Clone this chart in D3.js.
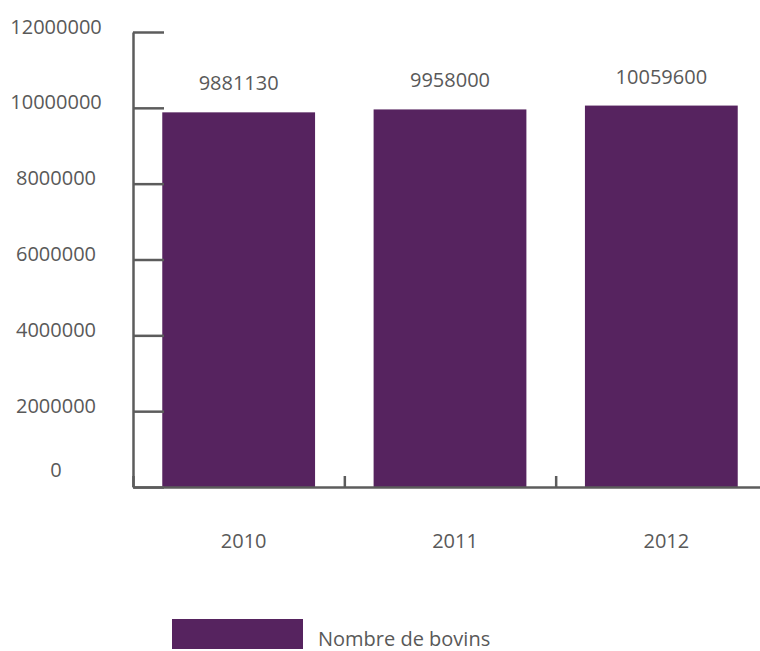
<!DOCTYPE html>
<html>
<head>
<meta charset="utf-8">
<script src="https://cdn.jsdelivr.net/npm/d3@7"></script>
<style>
  html, body { margin: 0; padding: 0; background: #ffffff; }
  svg { display: block; }
  text { font-family: "Open Sans", "Noto Sans", sans-serif; fill: #595959; }
</style>
</head>
<body>
<svg id="chart" width="760" height="651"></svg>
<script>
// Cattle headcount by year
const years = ["2010", "2011", "2012"];
const bovins = [9881130, 9958000, 10059600];
const yTicks = [0, 2000000, 4000000, 6000000, 8000000, 10000000, 12000000];
const seriesName = "Nombre de bovins";

const plotLeft = 133, plotRight = 767, plotTop = 32, plotBottom = 487;
const barColor = "#56235F";
const axisColor = "#5c5c5c";

const svg = d3.select("#chart");

const x = d3.scaleBand()
  .domain(years)
  .range([plotLeft, plotRight])
  .paddingInner(0.277)
  .paddingOuter(0.1385);

// band boundaries, used for the category separator ticks
const xEdges = d3.scaleLinear().domain([0, years.length]).range([plotLeft, plotRight]);

const y = d3.scaleLinear().domain([0, 12000000]).range([plotBottom, plotTop]);

// bars
svg.append("g")
  .selectAll("rect")
  .data(bovins)
  .join("rect")
  .attr("x", (d, i) => x(years[i]))
  .attr("y", d => y(d))
  .attr("width", x.bandwidth())
  .attr("height", d => y(0) - y(d))
  .attr("fill", barColor);

// y axis: ticks point into the plot, labels centred in the left margin
const yAxis = svg.append("g")
  .attr("transform", `translate(${plotLeft},0)`)
  .call(d3.axisLeft(y).tickValues(yTicks).tickSizeInner(-31).tickSizeOuter(0)
    .tickFormat(d3.format("d")));
yAxis.select(".domain").attr("stroke", axisColor).attr("stroke-width", 2.5);
yAxis.selectAll(".tick line").attr("stroke", axisColor).attr("stroke-width", 2.5);
yAxis.selectAll(".tick text")
  .attr("x", -77)
  .attr("dy", d => d === 0 ? "-0.55em" : "0.05em")
  .attr("text-anchor", "middle")
  .style("font-size", "20px")
  .style("font-family", "'Open Sans', sans-serif")
  .attr("fill", "#595959");

// x axis: separator ticks between categories
const xAxis = svg.append("g")
  .attr("transform", `translate(0,${plotBottom})`)
  .call(d3.axisBottom(xEdges).tickValues(d3.range(years.length + 1))
    .tickSizeInner(-11).tickSizeOuter(0).tickFormat(""));
xAxis.select(".domain").attr("stroke", axisColor).attr("stroke-width", 2.5);
xAxis.selectAll(".tick line").attr("stroke", axisColor).attr("stroke-width", 2.5);

// category labels
svg.append("g")
  .selectAll("text")
  .data(years)
  .join("text")
  .attr("x", d => x(d) + x.bandwidth() / 2 + 5)
  .attr("y", 548)
  .attr("text-anchor", "middle")
  .style("font-size", "20px")
  .text(d => d);

// value labels above bars
svg.append("g")
  .selectAll("text")
  .data(bovins)
  .join("text")
  .attr("x", (d, i) => x(years[i]) + x.bandwidth() / 2)
  .attr("y", d => y(d) - 22)
  .attr("text-anchor", "middle")
  .style("font-size", "20px")
  .text(d => d3.format("d")(d));

// legend
const legend = svg.append("g");
legend.append("rect")
  .attr("x", 172).attr("y", 619)
  .attr("width", 131).attr("height", 30)
  .attr("fill", barColor);
legend.append("text")
  .attr("x", 318).attr("y", 646)
  .style("font-size", "20px")
  .text(seriesName);
</script>
</body>
</html>
